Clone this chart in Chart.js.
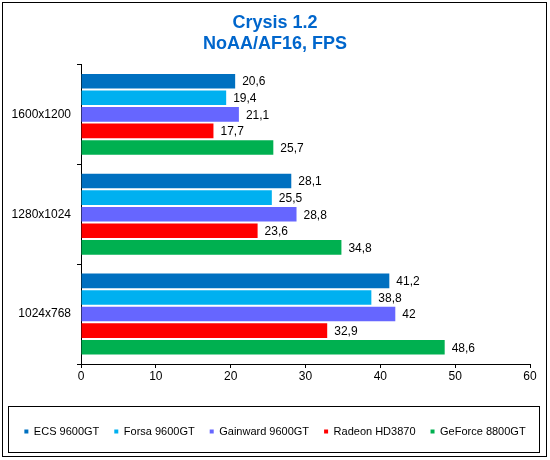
<!DOCTYPE html>
<html>
<head>
<meta charset="utf-8">
<script src="https://cdn.jsdelivr.net/npm/chart.js@4"></script>
<style>
  html, body { margin: 0; padding: 0; background: #fff; }
  #wrap { position: relative; width: 550px; height: 460px; }
</style>
</head>
<body>
<div id="wrap"><canvas id="chart" width="550" height="460"></canvas></div>
<script>
const categories = ['1600x1200', '1280x1024', '1024x768'];
const seriesNames = ['ECS 9600GT', 'Forsa 9600GT', 'Gainward 9600GT', 'Radeon HD3870', 'GeForce 8800GT'];
const ecs = [20.6, 28.1, 41.2];
const forsa = [19.4, 25.5, 38.8];
const gainward = [21.1, 28.8, 42];
const radeon = [17.7, 23.6, 32.9];
const geforce = [25.7, 34.8, 48.6];
const xTicks = [0, 10, 20, 30, 40, 50, 60];

const colors = ['#0070C0', '#00B0F0', '#6666FF', '#FF0000', '#00B050'];
const values = [ecs, forsa, gainward, radeon, geforce];

const FONT = "'Liberation Sans', Arial, sans-serif";
Chart.defaults.font.family = FONT;
Chart.defaults.color = '#000';

// value labels at the end of each bar, comma decimals
const barLabels = {
  id: 'barLabels',
  afterDatasetsDraw(chart) {
    const ctx = chart.ctx;
    ctx.save();
    ctx.font = '12px ' + FONT;
    ctx.fillStyle = '#000';
    ctx.textBaseline = 'middle';
    ctx.textAlign = 'left';
    chart.data.datasets.forEach((ds, i) => {
      chart.getDatasetMeta(i).data.forEach((bar, j) => {
        ctx.fillText(String(ds.data[j]).replace('.', ','), bar.x + 7, bar.y + 1);
      });
    });
    ctx.restore();
  }
};

// outer frame and box around the legend
const frames = {
  id: 'frames',
  afterDraw(chart) {
    const ctx = chart.ctx;
    const lg = chart.legend;
    ctx.save();
    ctx.strokeStyle = '#000';
    ctx.lineWidth = 1;
    ctx.strokeRect(2.5, 2.5, 544, 454);
    const cy = lg.top + lg.height / 2;
    ctx.strokeRect(8.5, Math.round(cy - 23) + 0.5, 531, 46);
    ctx.restore();
  }
};

new Chart(document.getElementById('chart'), {
  type: 'bar',
  data: {
    labels: categories,
    datasets: seriesNames.map((name, i) => ({
      label: name,
      data: values[i],
      backgroundColor: colors[i],
      borderWidth: 0,
      barPercentage: 0.88,
      categoryPercentage: 0.83
    }))
  },
  options: {
    indexAxis: 'y',
    responsive: false,
    animation: false,
    layout: { padding: { left: 0, right: 0, top: 0, bottom: 13 } },
    scales: {
      x: {
        min: 0,
        max: 60,
        afterBuildTicks: axis => { axis.ticks = xTicks.map(v => ({ value: v })); },
        afterFit: s => { s.height = 47; },
        grid: { drawOnChartArea: false, tickLength: 4, color: '#000' },
        border: { color: '#000' },
        ticks: { font: { size: 12 }, padding: 1, color: '#000' }
      },
      y: {
        afterFit: s => { s.width = 81; },
        grid: { drawOnChartArea: false, tickLength: 4, color: '#000' },
        border: { color: '#000' },
        ticks: { font: { size: 12 }, padding: 6, color: '#000' }
      },
      // empty strip that keeps the plot clear of the right frame
      pad: {
        type: 'linear',
        axis: 'y',
        position: 'right',
        afterFit: s => { s.width = 20; },
        grid: { display: false },
        border: { display: false },
        ticks: { display: false }
      }
    },
    plugins: {
      title: {
        display: true,
        text: ['Crysis 1.2', 'NoAA/AF16, FPS'],
        color: '#0066CC',
        font: { size: 18, weight: 'bold', lineHeight: 1.15 },
        padding: { top: 13, bottom: 10 }
      },
      legend: {
        position: 'bottom',
        labels: {
          boxWidth: 4,
          boxHeight: 4,
          padding: 15,
          font: { size: 11 },
          color: '#000'
        }
      },
      tooltip: { enabled: false }
    }
  },
  plugins: [barLabels, frames]
});
</script>
</body>
</html>
